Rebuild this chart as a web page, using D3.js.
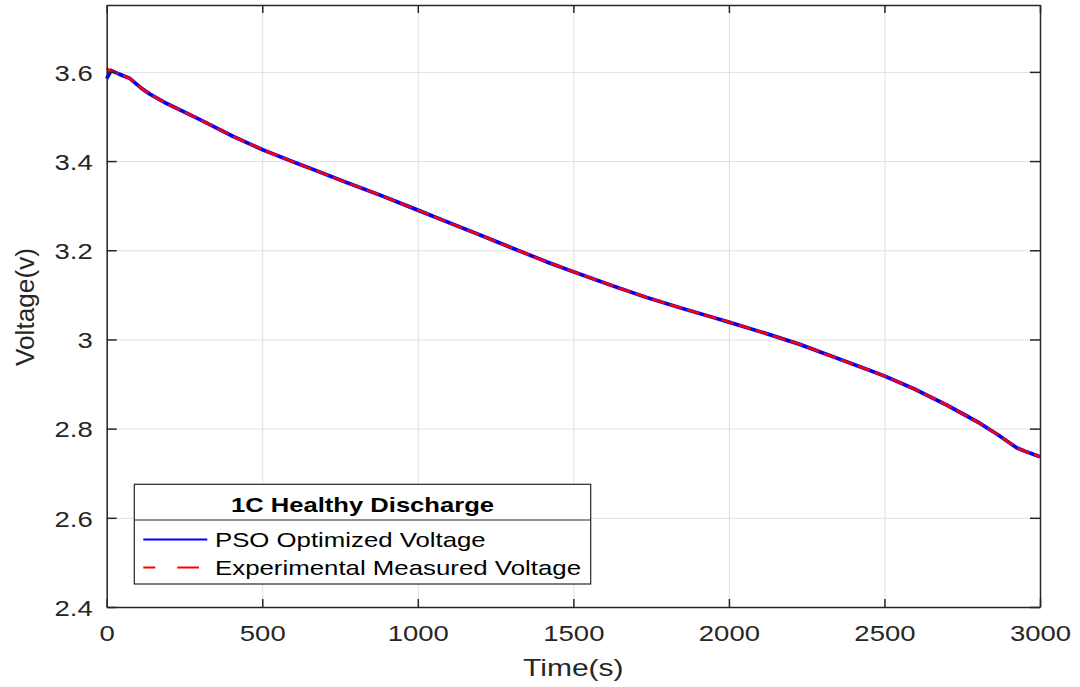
<!DOCTYPE html>
<html>
<head>
<meta charset="utf-8">
<script src="https://cdn.jsdelivr.net/npm/d3@7"></script>
<style>
  html, body { margin: 0; padding: 0; background: #fff; }
  svg { display: block; font-family: "Liberation Sans", Arial, Helvetica, sans-serif; }
</style>
</head>
<body>
<svg id="chart" width="1080" height="687"></svg>
<script>
// Discharge time samples (s)
const timeS = [0, 14, 40, 75, 112, 139, 193, 300, 407, 503, 611, 664, 771, 878, 1000, 1093, 1200,
  1307, 1414, 1500, 1628, 1736, 1843, 1961, 2000, 2121, 2228, 2335, 2443, 2500, 2593, 2700,
  2807, 2861, 2925, 2950, 3000];

// Measured terminal voltage (V)
const measuredV = [3.608, 3.602, 3.595, 3.585, 3.563, 3.550, 3.529, 3.493, 3.455, 3.425, 3.395,
  3.381, 3.352, 3.324, 3.290, 3.264, 3.234, 3.204, 3.174, 3.152, 3.120, 3.094, 3.071, 3.047,
  3.039, 3.013, 2.989, 2.961, 2.933, 2.918, 2.890, 2.853, 2.812, 2.788, 2.757, 2.750, 2.737];

// Model voltage from PSO-identified parameters (V)
const psoV = [3.585, 3.603, 3.595, 3.585, 3.563, 3.550, 3.529, 3.493, 3.455, 3.425, 3.395,
  3.381, 3.352, 3.324, 3.290, 3.264, 3.234, 3.204, 3.174, 3.152, 3.120, 3.094, 3.071, 3.047,
  3.039, 3.013, 2.989, 2.961, 2.933, 2.918, 2.890, 2.853, 2.812, 2.788, 2.757, 2.750, 2.737];

const xTicks = [0, 500, 1000, 1500, 2000, 2500, 3000];
const yTicks = [2.4, 2.6, 2.8, 3.0, 3.2, 3.4, 3.6];
const yTickLabels = ["2.4", "2.6", "2.8", "3", "3.2", "3.4", "3.6"];

const legendTitle = "1C Healthy Discharge";
const seriesNames = ["PSO Optimized Voltage", "Experimental Measured Voltage"];

const svg = d3.select("#chart");
const plotL = 106.7, plotR = 1040, plotT = 5, plotB = 607;
const W = plotR - plotL, H = plotB - plotT;
const sx = 1.25; // horizontal text widening
const axisColor = "#262626";

const x = d3.scaleLinear().domain([0, 3000]).range([plotL, plotR]);
const y = d3.scaleLinear().domain([2.4, 3.75]).range([plotB, plotT]);

// grid
svg.append("g")
  .attr("transform", `translate(0,${plotB})`)
  .call(d3.axisBottom(x).tickValues(xTicks).tickSize(-H).tickFormat(""))
  .call(g => g.select(".domain").remove())
  .call(g => g.selectAll("line").attr("stroke", "#e0e0e0").attr("stroke-width", 1));
svg.append("g")
  .attr("transform", `translate(${plotL},0)`)
  .call(d3.axisLeft(y).tickValues(yTicks).tickSize(-W).tickFormat(""))
  .call(g => g.select(".domain").remove())
  .call(g => g.selectAll("line").attr("stroke", "#e0e0e0").attr("stroke-width", 1));

// series
const ptsPSO = timeS.map((t, i) => [t, psoV[i]]);
const ptsMeas = timeS.map((t, i) => [t, measuredV[i]]);
const line = d3.line().x(d => x(d[0])).y(d => y(d[1]));

svg.append("path").datum(ptsPSO)
  .attr("d", line).attr("fill", "none")
  .attr("stroke", "#0000ff").attr("stroke-width", 3.8)
  .attr("stroke-linejoin", "round");
svg.append("path").datum(ptsMeas)
  .attr("d", line).attr("fill", "none")
  .attr("stroke", "#ff0000").attr("stroke-width", 2.6)
  .attr("stroke-dasharray", "13,5");

// axes with inward ticks
const axB = svg.append("g").attr("transform", `translate(0,${plotB})`)
  .call(d3.axisBottom(x).tickValues(xTicks).tickSizeInner(-8).tickSizeOuter(0).tickPadding(18.5)
    .tickFormat(d3.format("d")));
const axL = svg.append("g").attr("transform", `translate(${plotL},0)`)
  .call(d3.axisLeft(y).tickValues(yTicks).tickSizeInner(-10).tickSizeOuter(0).tickPadding(14 / sx)
    .tickFormat((d, i) => yTickLabels[i]));
const axT = svg.append("g").attr("transform", `translate(0,${plotT})`)
  .call(d3.axisTop(x).tickValues(xTicks).tickSizeInner(-8).tickSizeOuter(0).tickFormat(""));
const axR = svg.append("g").attr("transform", `translate(${plotR},0)`)
  .call(d3.axisRight(y).tickValues(yTicks).tickSizeInner(-10).tickSizeOuter(0).tickFormat(""));

[axB, axL, axT, axR].forEach(g => {
  g.select(".domain").attr("stroke", axisColor).attr("stroke-width", 1.5);
  g.selectAll(".tick line").attr("stroke", axisColor).attr("stroke-width", 1.5);
  g.selectAll("text")
    .attr("fill", axisColor)
    .attr("font-size", 22)
    .attr("font-family", "Liberation Sans, Arial, sans-serif")
    .attr("transform", `scale(${sx},1)`);
});
axL.selectAll("text").attr("dy", "0.38em");
axB.selectAll("text").attr("dy", "0.71em");

// axis titles
svg.append("text")
  .attr("x", (plotL + plotR) / 2 / sx).attr("y", 676)
  .attr("transform", `scale(${sx},1)`)
  .attr("text-anchor", "middle").attr("font-size", 24).attr("fill", axisColor)
  .text("Time(s)");
svg.append("text")
  .attr("transform", `translate(33.5,307) rotate(-90)`)
  .attr("text-anchor", "middle").attr("font-size", 25).attr("fill", axisColor)
  .attr("textLength", 118).attr("lengthAdjust", "spacingAndGlyphs")
  .text("Voltage(v)");

// legend
const lg = svg.append("g");
const lx0 = 134.3, lx1 = 590.7, ly0 = 484.3, ly1 = 584, lyDiv = 520;
lg.append("rect").attr("x", lx0).attr("y", ly0).attr("width", lx1 - lx0).attr("height", ly1 - ly0)
  .attr("fill", "#fff").attr("stroke", axisColor).attr("stroke-width", 1.2);
lg.append("line").attr("x1", lx0).attr("x2", lx1).attr("y1", lyDiv).attr("y2", lyDiv)
  .attr("stroke", axisColor).attr("stroke-width", 1.2);
lg.append("text").attr("x", (lx0 + lx1) / 2).attr("y", 511.7)
  .attr("text-anchor", "middle").attr("font-size", 21).attr("font-weight", "bold").attr("fill", "#000")
  .attr("textLength", 263).attr("lengthAdjust", "spacingAndGlyphs")
  .text(legendTitle);

const entryY = [539.5, 567.5];
const entryBase = [546.7, 575];
const entryLen = [270.7, 366];
lg.append("line").attr("x1", 143.3).attr("x2", 207.3).attr("y1", entryY[0]).attr("y2", entryY[0])
  .attr("stroke", "#0000ff").attr("stroke-width", 2);
lg.append("line").attr("x1", 143.3).attr("x2", 199).attr("y1", entryY[1]).attr("y2", entryY[1])
  .attr("stroke", "#ff0000").attr("stroke-width", 2).attr("stroke-dasharray", "12,22,22,22");
seriesNames.forEach((name, i) => {
  lg.append("text").attr("x", 215).attr("y", entryBase[i])
    .attr("font-size", 21).attr("fill", "#000")
    .attr("textLength", entryLen[i]).attr("lengthAdjust", "spacingAndGlyphs")
    .text(name);
});
</script>
</body>
</html>
